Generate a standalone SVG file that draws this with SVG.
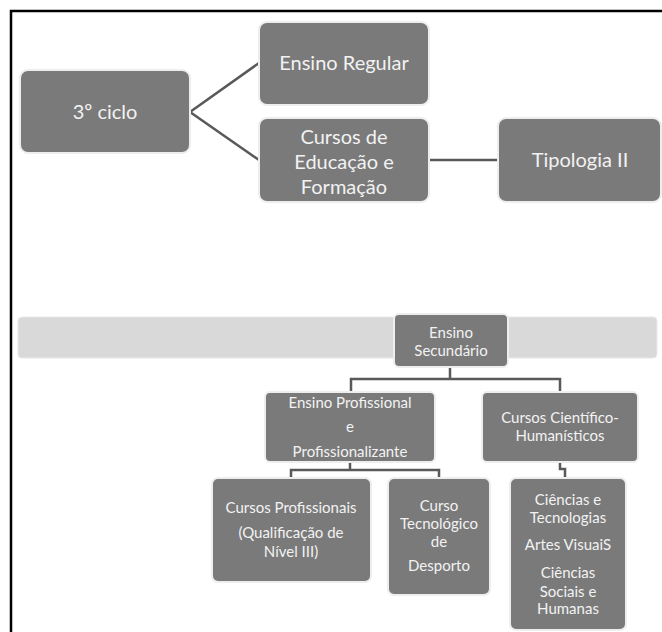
<svg xmlns="http://www.w3.org/2000/svg" width="662" height="632" viewBox="0 0 662 632">
<style>
.node{fill:#7a7a7a;stroke:#eeeeee;stroke-width:2}
.band{fill:#d9d9d9;stroke:#e8e8e8;stroke-width:1}
.big{font-family:Lato,"Liberation Sans",sans-serif;font-size:20px;fill:#f2f2f2;text-anchor:middle}
.sm{font-family:Lato,"Liberation Sans",sans-serif;font-size:15px;fill:#f2f2f2;text-anchor:middle}
.conn{fill:none;stroke:#595959;stroke-width:2.5}
.frame{fill:none;stroke:#000;stroke-width:2.5}
</style>
<rect width="662" height="632" fill="#fff"/>
<path class="frame" d="M11,632 V11 H662"/>
<rect class="band" x="18" y="317" width="639" height="41" rx="4"/>
<g id="connectors">
<path class="conn" d="M190,112 L259,63"/>
<path class="conn" d="M190,112 L259,160"/>
<path class="conn" d="M429,160 H498"/>
<path class="conn" d="M450,367 V379 M351,392 V379 H560 V392"/>
<path class="conn" d="M350,462 V470 M291,478 V470 H439 V478"/>
<path class="conn" d="M560,462 V469 H565 V477"/>
</g>
<g id="n-3ciclo"><rect class="node" x="20" y="70" width="170" height="83" rx="8"/><text class="big" x="105" y="119">3º ciclo</text></g>
<g id="n-regular"><rect class="node" x="259" y="22" width="170" height="83" rx="8"/><text class="big" x="344" y="70">Ensino Regular</text></g>
<g id="n-cef"><rect class="node" x="259" y="118" width="170" height="84" rx="8"/><text class="big" x="344" y="144">Cursos de</text><text class="big" x="344" y="169">Educação e</text><text class="big" x="344" y="194">Formação</text></g>
<g id="n-tipologia"><rect class="node" x="498" y="118" width="163" height="84" rx="8"/><text class="big" x="580" y="167">Tipologia II</text></g>
<g id="n-secundario"><rect class="node" x="394" y="314" width="114" height="53" rx="5"/><text class="sm" x="451" y="338">Ensino</text><text class="sm" x="451" y="356">Secundário</text></g>
<g id="n-profissional"><rect class="node" x="265" y="392" width="170" height="70" rx="5"/><text class="sm" x="350" y="408">Ensino Profissional</text><text class="sm" x="350" y="432">e</text><text class="sm" x="350" y="457">Profissionalizante</text></g>
<g id="n-cientifico"><rect class="node" x="482" y="392" width="156" height="70" rx="5"/><text class="sm" x="560" y="423">Cursos Científico-</text><text class="sm" x="560" y="441">Humanísticos</text></g>
<g id="n-cursosprof"><rect class="node" x="212" y="478" width="159" height="104" rx="6"/><text class="sm" x="291" y="513">Cursos Profissionais</text><text class="sm" x="291" y="538">(Qualificação de</text><text class="sm" x="291" y="557">Nível III)</text></g>
<g id="n-tecnologico"><rect class="node" x="388" y="478" width="102" height="117" rx="6"/><text class="sm" x="439" y="511">Curso</text><text class="sm" x="439" y="529">Tecnológico</text><text class="sm" x="439" y="547">de</text><text class="sm" x="439" y="571">Desporto</text></g>
<g id="n-ciencias"><rect class="node" x="510" y="478" width="116" height="152" rx="6"/><text class="sm" x="568" y="505">Ciências e</text><text class="sm" x="568" y="523">Tecnologias</text><text class="sm" x="568" y="550">Artes VisuaiS</text><text class="sm" x="568" y="578">Ciências</text><text class="sm" x="568" y="597">Sociais e</text><text class="sm" x="568" y="614">Humanas</text></g>
</svg>
